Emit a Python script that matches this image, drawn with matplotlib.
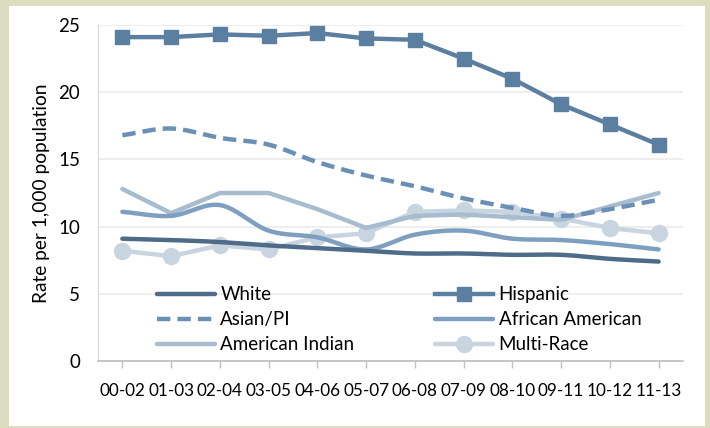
import matplotlib
matplotlib.use("Agg")
import matplotlib.pyplot as plt
import numpy as np
from matplotlib.patches import Rectangle

categories = ["00-02", "01-03", "02-04", "03-05", "04-06", "05-07",
              "06-08", "07-09", "08-10", "09-11", "10-12", "11-13"]
white = [9.1, 9.0, 8.85, 8.6, 8.4, 8.2, 8.0, 8.0, 7.9, 7.9, 7.6, 7.4]
hispanic = [24.1, 24.1, 24.3, 24.2, 24.4, 24.0, 23.9, 22.5, 21.0, 19.1, 17.6, 16.1]
asian_pi = [16.8, 17.3, 16.6, 16.1, 14.8, 13.8, 13.0, 12.1, 11.4, 10.8, 11.3, 12.0]
african_american = [11.1, 10.8, 11.6, 9.7, 9.2, 8.3, 9.4, 9.7, 9.1, 9.0, 8.7, 8.3]
american_indian = [12.8, 11.0, 12.5, 12.5, 11.3, 9.9, 10.8, 10.9, 10.7, 10.5, 11.5, 12.5]
multi_race = [8.2, 7.8, 8.6, 8.3, 9.2, 9.5, 11.1, 11.2, 11.1, 10.6, 9.9, 9.5]

plt.rcParams['font.family'] = ['Lato', 'DejaVu Sans']


def smooth(xs, ys, n=20):
    xs = np.asarray(xs, float); ys = np.asarray(ys, float)
    px = np.concatenate([[2 * xs[0] - xs[1]], xs, [2 * xs[-1] - xs[-2]]])
    py = np.concatenate([[2 * ys[0] - ys[1]], ys, [2 * ys[-1] - ys[-2]]])
    ox, oy = [], []
    for i in range(1, len(px) - 2):
        t = np.linspace(0, 1, n, endpoint=False)
        for arr, out in ((px, ox), (py, oy)):
            p0, p1, p2, p3 = arr[i - 1], arr[i], arr[i + 1], arr[i + 2]
            out.extend(0.5 * ((2 * p1) + (-p0 + p2) * t +
                              (2 * p0 - 5 * p1 + 4 * p2 - p3) * t ** 2 +
                              (-p0 + 3 * p1 - 3 * p2 + p3) * t ** 3))
    ox.append(xs[-1]); oy.append(ys[-1])
    return np.array(ox), np.array(oy)


fig = plt.figure(figsize=(7.10, 4.28), dpi=100)
fig.patch.set_facecolor("#dcdcbf")
fig.patches.append(Rectangle((9 / 710, 2 / 428), 696 / 710, 420 / 428,
                             transform=fig.transFigure, facecolor="white",
                             edgecolor="none", zorder=-10))

ax = fig.add_axes([98 / 710, 1 - 361 / 428, 585 / 710, 336 / 428])
ax.set_zorder(5)
ax.set_facecolor("white")
x = np.arange(len(categories))

c_white = "#4e6b8a"
c_hisp = "#5b7fa0"
c_asian = "#6a90b5"
c_afam = "#7f9fc0"
c_amind = "#a8bcd0"
c_multi = "#c8d4e0"

lw = 3.2
l_multi, = ax.plot(x, multi_race, color=c_multi, lw=lw, marker="o", ms=11.5,
                   label="Multi-Race", zorder=2, solid_capstyle="round")
l_amind, = ax.plot(x, american_indian, color=c_amind, lw=lw,
                   label="American Indian", zorder=3, solid_capstyle="round")
sx, sy = smooth(x, african_american)
l_afam, = ax.plot(sx, sy, color=c_afam, lw=lw, label="African American",
                  zorder=4, solid_capstyle="round")
sx, sy = smooth(x, asian_pi)
l_asian, = ax.plot(sx, sy, color=c_asian, lw=lw, ls=(0, (3, 1.6)),
                   label="Asian/PI", zorder=5)
sx, sy = smooth(x, white)
l_white, = ax.plot(sx, sy, color=c_white, lw=lw, label="White", zorder=6,
                   solid_capstyle="round")
l_hisp, = ax.plot(x, hispanic, color=c_hisp, lw=lw, marker="s", ms=10,
                  label="Hispanic", zorder=7)

ax.set_xlim(-0.5, 11.5)
ax.set_ylim(0, 25)
ax.set_yticks([0, 5, 10, 15, 20, 25])
ax.set_xticks(x)
ax.set_xticklabels(categories)
ax.tick_params(axis="x", length=5, color="#bfbfbf", width=1, labelsize=12.3,
               pad=11)
ax.tick_params(axis="y", length=0, labelsize=13.5, pad=13)
ax.grid(axis="y", color="#ebebeb", lw=1.2)
ax.set_axisbelow(True)
for s in ("top", "right"):
    ax.spines[s].set_visible(False)
ax.spines["left"].set_color("#d9d9d9")
ax.spines["bottom"].set_color("#bfbfbf")
ax.spines["bottom"].set_linewidth(1.2)
ax.set_ylabel("Rate per 1,000 population", fontsize=13.8, labelpad=6)

ax.legend([l_white, l_asian, l_amind, l_hisp, l_afam, l_multi],
          ["White", "Asian/PI", "American Indian", "Hispanic",
           "African American", "Multi-Race"],
          ncol=2, frameon=False, fontsize=13.5, loc="upper left",
          bbox_to_anchor=(0.1, 0.222), handlelength=3.1, handletextpad=0.3,
          columnspacing=4.3, labelspacing=0.42, borderpad=0, borderaxespad=0)

fig.savefig("out.png", dpi=100, facecolor=fig.get_facecolor())
